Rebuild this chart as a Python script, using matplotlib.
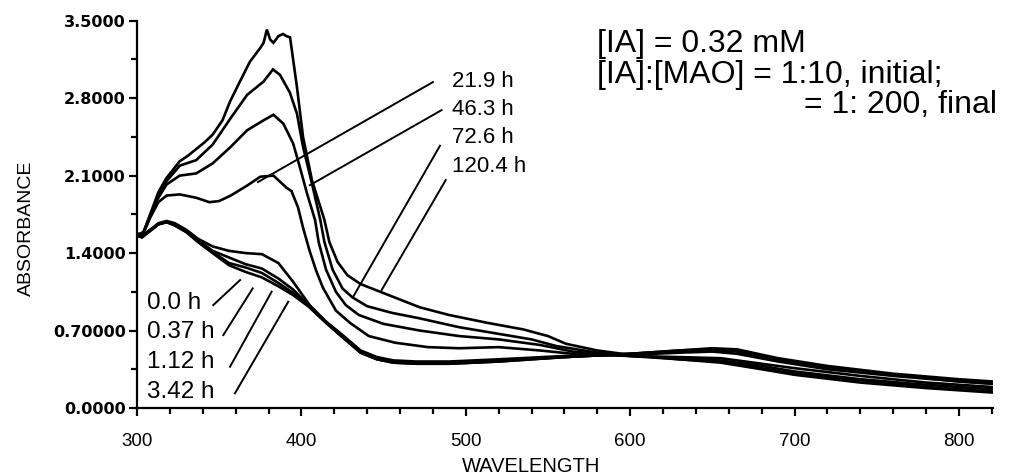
import matplotlib
matplotlib.use("Agg")
import matplotlib.pyplot as plt
from matplotlib.ticker import FixedLocator, MultipleLocator

# ---- spectra (wavelength in nm, absorbance) ----
wl_0h = [300, 303, 308, 313, 318, 323, 330, 337, 346, 356, 366, 376, 386, 395, 405, 415, 425, 436, 446, 456, 470, 490, 520, 560, 600, 630, 650, 665, 690, 720, 760, 800, 820]
abs_0h = [1.57, 1.55, 1.60, 1.66, 1.68, 1.65, 1.59, 1.50, 1.40, 1.29, 1.23, 1.18, 1.10, 1.02, 0.91, 0.77, 0.64, 0.50, 0.44, 0.41, 0.40, 0.40, 0.42, 0.46, 0.49, 0.52, 0.54, 0.53, 0.45, 0.38, 0.31, 0.26, 0.24]

wl_037h = [300, 303, 308, 313, 318, 323, 330, 337, 346, 356, 366, 376, 386, 395, 405, 415, 425, 436, 446, 456, 470, 490, 520, 560, 600, 630, 650, 665, 690, 720, 760, 800, 820]
abs_037h = [1.58, 1.56, 1.61, 1.66, 1.68, 1.65, 1.59, 1.51, 1.41, 1.31, 1.27, 1.22, 1.13, 1.04, 0.91, 0.77, 0.64, 0.50, 0.44, 0.41, 0.40, 0.40, 0.42, 0.46, 0.49, 0.52, 0.53, 0.52, 0.44, 0.37, 0.30, 0.25, 0.23]

wl_112h = [300, 303, 308, 313, 318, 323, 330, 337, 346, 356, 366, 376, 386, 395, 405, 415, 425, 436, 446, 456, 470, 490, 520, 560, 600, 630, 650, 665, 690, 720, 760, 800, 820]
abs_112h = [1.56, 1.54, 1.60, 1.66, 1.68, 1.66, 1.60, 1.52, 1.42, 1.36, 1.30, 1.26, 1.17, 1.07, 0.92, 0.78, 0.65, 0.51, 0.45, 0.42, 0.41, 0.41, 0.43, 0.46, 0.49, 0.51, 0.52, 0.51, 0.43, 0.36, 0.30, 0.24, 0.22]

wl_342h = [300, 303, 308, 313, 318, 323, 330, 337, 346, 356, 366, 376, 386, 395, 405, 415, 425, 436, 446, 456, 470, 490, 520, 560, 600, 630, 650, 665, 690, 720, 760, 800, 820]
abs_342h = [1.55, 1.55, 1.61, 1.67, 1.69, 1.67, 1.61, 1.53, 1.46, 1.42, 1.40, 1.39, 1.31, 1.14, 0.93, 0.78, 0.66, 0.52, 0.46, 0.43, 0.42, 0.42, 0.44, 0.47, 0.48, 0.50, 0.51, 0.49, 0.42, 0.35, 0.29, 0.24, 0.22]

wl_219h = [300, 304, 308, 313, 318, 326, 336, 344, 350, 357, 367, 375, 383, 391, 394, 398, 401, 405, 409, 413, 421, 429.5, 441, 457, 477, 496, 520, 545, 565, 580, 600, 630, 655, 680, 700, 740, 780, 820]
abs_219h = [1.55, 1.58, 1.72, 1.86, 1.92, 1.93, 1.90, 1.86, 1.87, 1.92, 2.01, 2.09, 2.10, 1.99, 1.96, 1.81, 1.63, 1.42, 1.24, 1.09, 0.88, 0.77, 0.65, 0.59, 0.55, 0.54, 0.55, 0.52, 0.49, 0.48, 0.47, 0.46, 0.45, 0.40, 0.36, 0.29, 0.23, 0.19]

wl_463h = [300, 304, 308, 313, 318, 326, 336, 346, 357, 367, 377, 383, 389, 395, 399, 403.4, 408.3, 410.5, 415, 421, 427, 435, 450, 472, 496, 520, 545, 565, 580, 600, 630, 655, 680, 700, 740, 780, 820]
abs_463h = [1.56, 1.59, 1.73, 1.90, 2.02, 2.10, 2.12, 2.21, 2.36, 2.51, 2.60, 2.65, 2.57, 2.39, 2.18, 1.94, 1.70, 1.50, 1.25, 1.05, 0.93, 0.84, 0.76, 0.70, 0.65, 0.62, 0.57, 0.51, 0.49, 0.47, 0.45, 0.43, 0.38, 0.33, 0.26, 0.21, 0.17]

wl_726h = [300, 304, 308, 313, 318, 326, 336, 346, 357, 367, 377, 382.7, 387, 393, 397.3, 401, 406.4, 411.5, 414, 419, 425, 431, 440, 455, 472, 496, 520, 540, 555, 580, 600, 630, 655, 680, 700, 740, 780, 820]
abs_726h = [1.56, 1.59, 1.74, 1.92, 2.05, 2.19, 2.24, 2.38, 2.62, 2.83, 2.95, 3.06, 3.01, 2.85, 2.66, 2.36, 2.03, 1.70, 1.50, 1.25, 1.08, 1.00, 0.92, 0.86, 0.81, 0.73, 0.67, 0.62, 0.56, 0.50, 0.47, 0.44, 0.42, 0.36, 0.31, 0.25, 0.19, 0.15]

wl_1204h = [300, 304, 308, 313, 318, 326, 331, 336, 341, 346, 352, 356.6, 362.6, 368.7, 374.8, 377, 379, 381, 383, 386, 388.8, 391, 393.1, 397.3, 401, 406.4, 414, 417, 422, 428, 436, 448, 460, 472, 490, 513, 535, 550, 561, 580, 600, 630, 655, 680, 700, 740, 780, 820]
abs_1204h = [1.55, 1.59, 1.75, 1.95, 2.08, 2.23, 2.28, 2.34, 2.40, 2.47, 2.60, 2.77, 2.95, 3.13, 3.25, 3.30, 3.42, 3.33, 3.30, 3.36, 3.38, 3.36, 3.35, 2.90, 2.45, 2.06, 1.70, 1.50, 1.32, 1.20, 1.12, 1.05, 0.98, 0.91, 0.84, 0.77, 0.71, 0.65, 0.58, 0.52, 0.48, 0.44, 0.41, 0.35, 0.30, 0.23, 0.18, 0.14]

series = [
    (wl_0h, abs_0h), (wl_037h, abs_037h), (wl_112h, abs_112h), (wl_342h, abs_342h),
    (wl_219h, abs_219h), (wl_463h, abs_463h), (wl_726h, abs_726h), (wl_1204h, abs_1204h),
]

# time labels
left_labels = ["0.0 h", "0.37 h", "1.12 h", "3.42 h"]
right_labels = ["21.9 h", "46.3 h", "72.6 h", "120.4 h"]

# axis ticks
x_ticks = [300, 400, 500, 600, 700, 800]
y_ticks = [0.0, 0.7, 1.4, 2.1, 2.8, 3.5]
y_tick_labels = ["0.0000", "0.70000", "1.4000", "2.1000", "2.8000", "3.5000"]

# leader lines ((x0, y0), (x1, y1)) in data units and text anchors
left_leaders = [((346.4, 0.93), (362.7, 1.156)),
                ((352.5, 0.659), (370.4, 1.081)),
                ((356.6, 0.373), (381.9, 1.051)),
                ((359.6, 0.133), (392.0, 0.960))]
left_text_pos = [(306.1, 0.950), (306.1, 0.688), (306.1, 0.417), (306.1, 0.146)]

right_leaders = [((480.0, 2.945), (373.6, 2.042)),
                 ((485.3, 2.692), (405.2, 2.014)),
                 ((484.3, 2.370), (431.4, 1.003)),
                 ((487.8, 2.060), (448.8, 1.066))]
right_text_pos = [(491.6, 2.954), (491.6, 2.700), (491.6, 2.448), (491.6, 2.186)]

# condition notes, one per line
notes = ["[IA] = 0.32 mM", "[IA]:[MAO] = 1:10, initial;", "= 1: 200, final"]

SANS = "Liberation Sans"

fig = plt.figure(figsize=(10.10, 4.76), dpi=100)
ax = fig.add_axes([137 / 1010, 1 - 408 / 476, (993 - 137) / 1010, (408 - 20.7) / 476])

for wl, a in series:
    ax.plot(wl, a, color="black", lw=1.9, solid_joinstyle="miter")

for (p0, p1) in left_leaders + right_leaders:
    ax.plot([p0[0], p1[0]], [p0[1], p1[1]], color="black", lw=1.4)

for lab, (x, y) in zip(left_labels, left_text_pos):
    ax.text(x, y, lab, fontsize=17.5, family=SANS, ha="left", va="center")
for lab, (x, y) in zip(right_labels, right_text_pos):
    ax.text(x, y, lab, fontsize=16, family=SANS, ha="left", va="center")

ax.text(579.8, 3.287, notes[0], fontsize=23, family=SANS, ha="left", va="center")
ax.text(579.8, 3.013, notes[1], fontsize=23, family=SANS, ha="left", va="center")
ax.text(823.0, 2.739, notes[2], fontsize=23, family=SANS, ha="right", va="center")

ax.set_xlim(300, 820.7)
ax.set_ylim(0, 3.5)

ax.xaxis.set_major_locator(FixedLocator(x_ticks))
ax.xaxis.set_minor_locator(MultipleLocator(20))
ax.yaxis.set_major_locator(FixedLocator(y_ticks))
ax.yaxis.set_minor_locator(MultipleLocator(0.35))
ax.set_yticklabels(y_tick_labels, family="DejaVu Sans", fontweight="bold", fontsize=11.5)
ax.set_xticklabels([str(t) for t in x_ticks], family=SANS, fontsize=13.5)

for s in ("top", "right"):
    ax.spines[s].set_visible(False)
for s in ("left", "bottom"):
    ax.spines[s].set_linewidth(1.6)

ax.tick_params(axis="both", which="major", direction="out", length=6, width=1.6, color="black")
ax.tick_params(axis="both", which="minor", direction="out", length=4, width=1.6, color="black")
ax.tick_params(axis="x", which="major", pad=12)
ax.tick_params(axis="y", which="major", pad=2)

fig.text(531 / 1010, 1 - 467 / 476, "WAVELENGTH", fontsize=14.5, family=SANS, ha="center", va="center")
fig.text(26 / 1010, 1 - 228 / 476, "ABSORBANCE", fontsize=14, family=SANS, ha="center", va="center", rotation=90)

fig.savefig("out.png", dpi=100, facecolor="white")
